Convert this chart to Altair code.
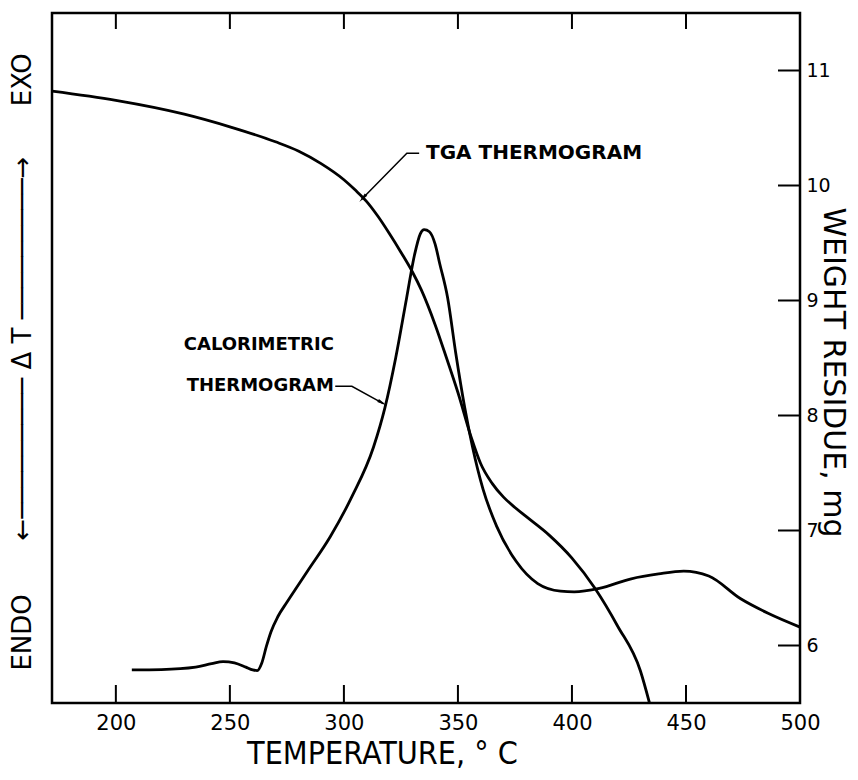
import altair as alt
import pandas as pd

# ---- data ----
# TGA thermogram (weight residue, mg; right axis)
tga_temp = [172, 200, 230, 250, 270, 280, 290, 300, 305, 310, 315, 320, 325, 330, 334,
            340, 345, 350, 356, 360, 365, 370, 375, 380, 390, 400, 410, 420, 430, 434]
tga_weight = [10.82, 10.74, 10.62, 10.51, 10.38, 10.30, 10.19, 10.05, 9.96, 9.86, 9.73,
              9.58, 9.42, 9.25, 9.09, 8.79, 8.50, 8.20, 7.80, 7.58, 7.41, 7.29, 7.20, 7.12,
              6.96, 6.76, 6.50, 6.17, 5.78, 5.50]

# Calorimetric thermogram (delta T, arbitrary units; left axis)
cal_temp = [207, 220, 235, 242, 247, 252, 257, 260, 262, 264, 266, 268, 271, 275, 280, 284,
            294, 303.5, 313, 318, 322.7, 327.5, 331, 333.5, 335.2, 337.5, 340, 342, 345.5, 349,
            353, 356.4, 361, 367, 375.6, 385, 395, 401, 412, 426, 438, 449, 460, 474, 486, 500]
cal_dt = [4.8, 4.85, 5.2, 5.7, 6.0, 5.8, 5.2, 4.8, 4.7, 5.8, 8.2, 10.3, 12.5, 14.6, 17.1, 19.1,
          24.1, 29.9, 37.1, 42.8, 50.0, 58.7, 65.0, 68.0, 68.6, 68.3, 66.5, 63.7, 58.7, 50.8,
          42.8, 37.1, 31.0, 25.6, 20.5, 17.3, 16.2, 16.1, 16.6, 18.0, 18.7, 19.1, 18.4, 15.1,
          13.0, 11.0]

x_ticks = [200, 250, 300, 350, 400, 450, 500]
x_tick_marks = [200, 250, 300, 350, 400, 450]
w_ticks = [6, 7, 8, 9, 10, 11]
side_label_pos = [10.3, 90.4]

# annotation texts / leaders
tga_label = pd.DataFrame({"T": [336.0], "v": [10.28], "txt": ["TGA THERMOGRAM"]})
tga_leader = pd.DataFrame({"T": [333.0, 327.6, 307.8], "v": [10.28, 10.28, 9.88], "o": [0, 1, 2]})
tga_head = pd.DataFrame({"T": [308.3], "v": [9.89]})
cal_label = pd.DataFrame({"T": [295.6, 295.6], "v": [51.9, 45.9],
                          "txt": ["CALORIMETRIC", "THERMOGRAM"]})
cal_leader = pd.DataFrame({"T": [296.2, 303.5, 317.3], "v": [45.9, 45.9, 43.4], "o": [0, 1, 2]})
cal_head = pd.DataFrame({"T": [316.8], "v": [43.5]})

tga_df = pd.DataFrame({"T": tga_temp, "v": tga_weight})
cal_df = pd.DataFrame({"T": cal_temp, "v": cal_dt})
xtick_df = pd.DataFrame({"T": x_tick_marks})
wtick_df = pd.DataFrame({"v": w_ticks})

FONT = "DejaVu Sans"
COND = "DejaVu Sans Condensed, Liberation Sans Narrow, DejaVu Sans"
W, H = 748, 690
x_scale = alt.Scale(domain=[172, 500], nice=False, zero=False)
w_scale = alt.Scale(domain=[5.5, 11.5], nice=False, zero=False)
d_scale = alt.Scale(domain=[0, 100], nice=False, zero=False)

x_axis = alt.Axis(
    orient="bottom", values=x_ticks, ticks=False, domain=False, grid=False,
    labelFont=FONT, labelFontSize=21, labelColor="black", labelPadding=9, labelFlush=False,
    format="d",
    title="TEMPERATURE, ° C", titleFont=COND, titleFontSize=32, titleFontWeight="normal",
    titleColor="black", titleX=330, titleY=60, titleAlign="center",
    titleBaseline="alphabetic")
x_enc = alt.X("T:Q", scale=x_scale, axis=x_axis)

y_w = alt.Y("v:Q", scale=w_scale, axis=alt.Axis(
    orient="right", values=w_ticks, ticks=False, domain=False, grid=False,
    labelFont=FONT, labelFontSize=19, labelColor="black", format="d",
    labelPadding=6, labelAlign="left", labelBaseline="middle", labelFlush=False,
    title="WEIGHT RESIDUE, mg", titleFont=FONT, titleFontSize=30, titleFontWeight="normal",
    titleColor="black", titleAngle=90, titleX=32, titleY=359, titleAlign="center",
    titleBaseline="middle"))

y_d = alt.Y("v:Q", scale=d_scale, axis=alt.Axis(
    orient="left", values=side_label_pos, ticks=False, tickSize=0, domain=False, grid=False,
    labelExpr="datum.value > 50 ? 'EXO' : 'ENDO'", labelAngle=270, labelAlign="center",
    labelBaseline="middle", labelPadding=30, labelFont=FONT, labelFontSize=26,
    labelColor="black", labelFlush=False,
    title="←───────── Δ T ─────────→", titleFont=FONT, titleFontSize=26,
    titleFontWeight="normal", titleColor="black", titleAngle=270, titleX=-30, titleY=335,
    titleAlign="center", titleBaseline="middle"))

ARROW = "M0,-1L0.32,0.9L-0.32,0.9Z"
line_kw = dict(color="black", strokeWidth=2.8, interpolate="monotone")

tga_line = alt.Chart(tga_df).mark_line(**line_kw).encode(x=x_enc, y=y_w)
tga_txt = alt.Chart(tga_label).mark_text(
    align="left", baseline="middle", font=FONT, fontSize=20, fontWeight="bold", color="black"
).encode(x=x_enc, y=y_w, text="txt:N")
tga_ld = alt.Chart(tga_leader).mark_line(color="black", strokeWidth=1.5).encode(
    x=x_enc, y=y_w, order="o:Q")
tga_hd = alt.Chart(tga_head).mark_point(
    shape=ARROW, size=110, angle=222, filled=True, color="black", opacity=1, strokeWidth=0
).encode(x=x_enc, y=y_w)

# tick marks drawn inside the frame (bottom, top, right)
bot_ticks = alt.Chart(xtick_df).mark_rule(color="black", strokeWidth=2).encode(
    x=x_enc, y=alt.value(H), y2=alt.value(H - 18))
top_ticks = alt.Chart(xtick_df).mark_rule(color="black", strokeWidth=2).encode(
    x=x_enc, y=alt.value(0), y2=alt.value(16))
right_ticks = alt.Chart(wtick_df).mark_rule(color="black", strokeWidth=2).encode(
    y=y_w, x=alt.value(W - 22), x2=alt.value(W))

cal_line = alt.Chart(cal_df).mark_line(**line_kw).encode(x=x_enc, y=y_d)
cal_txt = alt.Chart(cal_label).mark_text(
    align="right", baseline="middle", font=FONT, fontSize=18, fontWeight="bold", color="black"
).encode(x=x_enc, y=y_d, text="txt:N")
cal_ld = alt.Chart(cal_leader).mark_line(color="black", strokeWidth=1.5).encode(
    x=x_enc, y=y_d, order="o:Q")
cal_hd = alt.Chart(cal_head).mark_point(
    shape=ARROW, size=110, angle=120, filled=True, color="black", opacity=1, strokeWidth=0
).encode(x=x_enc, y=y_d)

tga_group = alt.layer(tga_line, tga_ld, tga_hd, tga_txt, bot_ticks, top_ticks, right_ticks)
cal_group = alt.layer(cal_line, cal_ld, cal_hd, cal_txt)

chart = alt.layer(tga_group, cal_group).resolve_scale(
    y="independent"
).resolve_axis(
    y="independent"
).properties(
    width=W, height=H,
    padding={"left": 44, "top": 5, "right": 50, "bottom": 69},
    autosize=alt.AutoSizeParams(type="none"),
    background="white",
).configure_view(
    stroke="black", strokeWidth=2.5
)

chart.save("out.html", embed_options={"renderer": "svg", "actions": False})
